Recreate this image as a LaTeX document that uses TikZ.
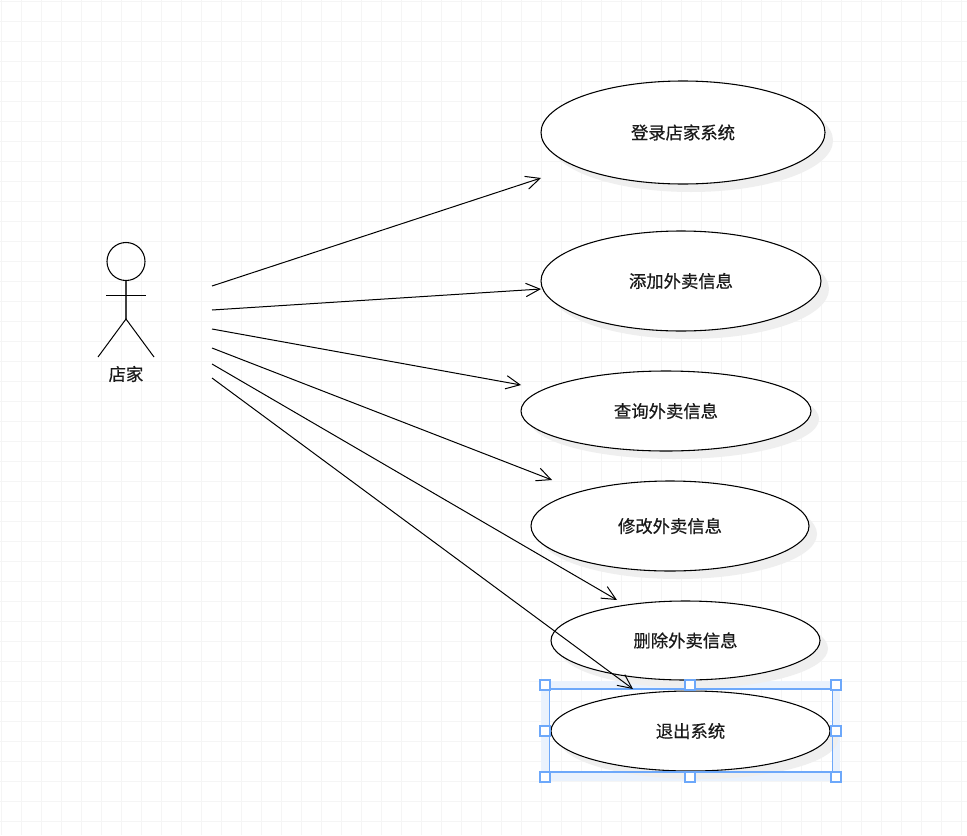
\documentclass[tikz,border=0pt]{standalone}
\usepackage{fontspec}
\setmainfont[FakeBold=0.5]{Noto Sans CJK SC}
\usetikzlibrary{arrows.meta,shapes.geometric}
\definecolor{gridc}{HTML}{F5F5F5}
\definecolor{shad}{HTML}{EFEFEF}
\definecolor{selc}{HTML}{6DA8FA}
\definecolor{selband}{HTML}{EAF2FD}
\tikzset{
  x=0.75pt,y=-0.75pt,
  usecase/.style={ellipse,draw=black,fill=white,line width=0.8pt,inner sep=0pt,outer sep=0pt,font=\fontsize{13}{15}\selectfont,text=black!90},
  shadowshape/.style={ellipse,fill=shad,draw=none,inner sep=0pt,outer sep=0pt},
  flow/.style={line width=0.75pt,-{Straight Barb[length=10.5pt,width=10pt,line width=0.75pt]}},
  stick/.style={line width=0.75pt,draw=black},
  handle/.style={rectangle,draw=selc,fill=white,line width=1.3pt,minimum size=8pt,inner sep=0pt},
}
\newcommand{\ucase}[6]{% name, cx, cy, w, h, label
  \node[shadowshape,minimum width=#4*0.75pt,minimum height=#5*0.75pt] (#1s) at (#2+8,#3+8) {};
  \node[usecase,minimum width=#4*0.75pt,minimum height=#5*0.75pt] (#1) at (#2,#3) {#6};
}
\begin{document}
\begin{tikzpicture}
\useasboundingbox (0,0) rectangle (967,835);
\fill[white] (0,0) rectangle (967,835);
% grid
\foreach \gx in {1.5,21.5,...,961.5} \draw[gridc,line width=0.75pt] (\gx,0) -- (\gx,835);
\foreach \gy in {1.5,21.5,...,821.5} \draw[gridc,line width=0.75pt] (0,\gy) -- (967,\gy);
% selection band (behind the shapes)
\draw[selband,line width=6.5pt] (545.5,685.5) rectangle (836,777);
% use cases
\ucase{a}{683}{132.5}{284}{103}{登录店家系统}
\ucase{b}{681}{281}{280}{100}{添加外卖信息}
\ucase{c}{666}{411}{290}{80}{查询外卖信息}
\ucase{d}{670}{526}{278}{90}{修改外卖信息}
\ucase{e}{685.5}{640.5}{269}{79}{删除外卖信息}
\ucase{f}{690.5}{731}{279}{80}{退出系统}
% selection outline and handles
\node[draw=selc,line width=1.2pt,minimum width=212pt,minimum height=62.5pt,inner sep=0pt,outer sep=0pt] (sel) at (691,730.5) {};
\foreach \n/\hx/\hy in {h1/545/685,h2/690/685,h3/836/685,h4/545/731,h5/836/731,h6/545/777,h7/690/777,h8/836/777}
  \node[handle] (\n) at (\hx,\hy) {};
% actor
\node[circle,draw=black,line width=0.8pt,minimum size=28.5pt,inner sep=0pt,outer sep=0pt] (head) at (126,261.5) {};
\coordinate (hip) at (126,319);
\coordinate (armL) at (106,295);
\coordinate (armR) at (146,295);
\coordinate (legL) at (98,357);
\coordinate (legR) at (154,357);
\draw[stick,draw=black!75,line width=1pt] (head.south) -- (hip);
\draw[stick] (armL) -- (armR);
\draw[stick] (legL) -- (hip) -- (legR);
\node[font=\fontsize{13}{15}\selectfont,text=black!90,inner sep=0pt] (actor) at (126,374) {店家};
% connectors
\foreach \n/\sx/\sy/\ex/\ey in {1/212/286/541/178,2/212/310/541/289,3/212/329/521/385,4/212/348/552/480,5/212/364/617/600,6/212/378/633/689}{
  \coordinate (s\n) at (\sx,\sy);
  \coordinate (t\n) at (\ex,\ey);
  \draw[flow] (s\n) -- (t\n);
}
\end{tikzpicture}
\end{document}
